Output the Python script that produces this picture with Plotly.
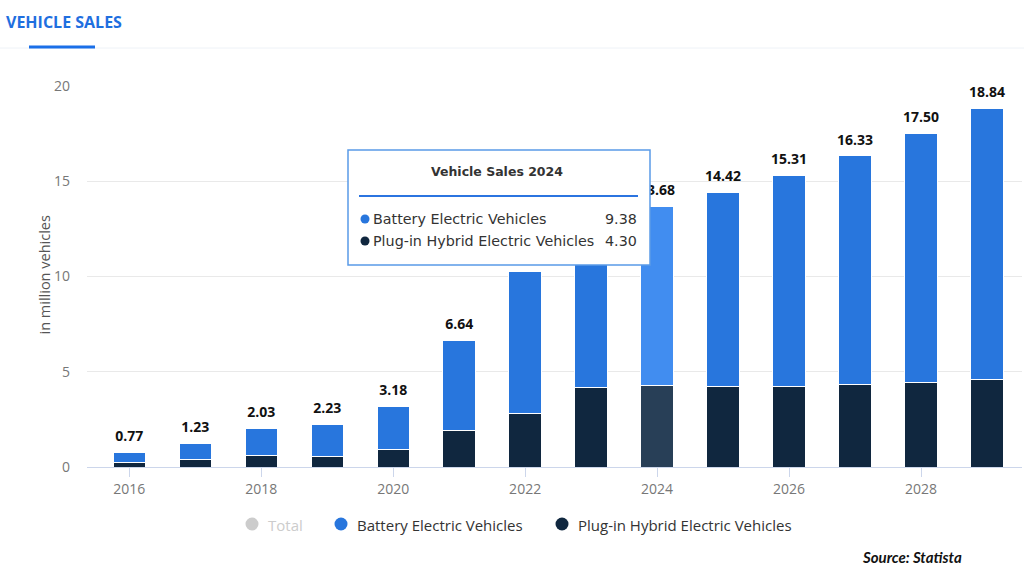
import plotly.graph_objects as go

years = [2016, 2017, 2018, 2019, 2020, 2021, 2022, 2023, 2024, 2025, 2026, 2027, 2028, 2029]
phev = [0.23, 0.37, 0.61, 0.54, 0.94, 1.90, 2.80, 4.15, 4.30, 4.25, 4.25, 4.32, 4.43, 4.60]
bev = [0.54, 0.86, 1.42, 1.69, 2.24, 4.74, 7.44, 8.95, 9.38, 10.17, 11.06, 12.01, 13.07, 14.24]
totals = [round(b + p, 2) for b, p in zip(bev, phev)]
x_ticks = [2016, 2018, 2020, 2022, 2024, 2026, 2028]
y_ticks = [0, 5, 10, 15, 20]
hover_year = 2024

BEV_C, BEV_H = "#2876dd", "#418df0"
PHEV_C, PHEV_H = "#10273f", "#283f57"

W, H = 1024, 576
L, R, T, B = 87, 2, 86, 109
PW, PH = W - L - R, H - T - B


def px(x):
    return (x - L) / PW


def py(y):
    return (H - B - y) / PH


fig = go.Figure()
fig.add_trace(go.Bar(
    x=years, y=phev, name="Plug-in Hybrid Electric Vehicles",
    marker=dict(color=[PHEV_H if y == hover_year else PHEV_C for y in years],
                line=dict(color="white", width=1)),
    width=0.49, showlegend=False, hoverinfo="skip"))
fig.add_trace(go.Bar(
    x=years, y=bev, name="Battery Electric Vehicles",
    marker=dict(color=[BEV_H if y == hover_year else BEV_C for y in years],
                line=dict(color="white", width=1)),
    width=0.49, showlegend=False, hoverinfo="skip"))
# total labels (drawn in the trace layer so the tooltip box can cover them)
fig.add_trace(go.Scatter(
    x=years, y=totals, mode="markers+text", text=[f"<b>{t:.2f}</b>" for t in totals],
    textposition="top center", cliponaxis=False,
    marker=dict(size=11, opacity=0, color="white"),
    textfont=dict(family="Open Sans", size=14, color="#111111"),
    showlegend=False, hoverinfo="skip"))

shapes = []
annotations = []

# header
annotations.append(dict(xref="paper", yref="paper", x=px(4), y=py(22), xanchor="left", yanchor="middle",
                        text="<b>VEHICLE SALES</b>", showarrow=False,
                        font=dict(family="Open Sans", size=16, color="#1f6fdf")))
shapes.append(dict(type="line", xref="paper", yref="paper", x0=px(0), x1=px(1024), y0=py(48), y1=py(48),
                   line=dict(color="#eef2f7", width=1)))
shapes.append(dict(type="line", xref="paper", yref="paper", x0=px(29), x1=px(95), y0=py(47), y1=py(47),
                   line=dict(color="#1a6fe8", width=3)))

# y-axis title
annotations.append(dict(xref="paper", yref="paper", x=px(32), y=py(275), textangle=-90,
                        text="in million vehicles", showarrow=False,
                        font=dict(family="Open Sans", size=14.5, color="#555555")))

# legend
legend_items = [("Total", "#cccccc", "#cccccc", 252), ("Battery Electric Vehicles", BEV_C, "#333333", 341),
                ("Plug-in Hybrid Electric Vehicles", PHEV_C, "#333333", 562)]
for name, dot, tc, xdot in legend_items:
    shapes.append(dict(type="circle", xref="paper", yref="paper", xsizemode="pixel", ysizemode="pixel",
                       xanchor=px(xdot), yanchor=py(524), x0=-6.5, x1=6.5, y0=-6.5, y1=6.5,
                       fillcolor=dot, line=dict(width=0)))
    annotations.append(dict(xref="paper", yref="paper", x=px(xdot + 14), y=py(525), xanchor="left",
                            yanchor="middle", text=name, showarrow=False,
                            font=dict(family="Open Sans", size=15, color=tc)))

# source
annotations.append(dict(xref="paper", yref="paper", x=px(860), y=py(557), xanchor="left", yanchor="middle",
                        text="<b><i>Source: Statista</i></b>", showarrow=False,
                        font=dict(family="Lato", size=15, color="#111111")))

# tooltip
idx = years.index(hover_year)
shapes.append(dict(type="rect", xref="paper", yref="paper", x0=px(348), x1=px(650), y0=py(150), y1=py(265),
                   fillcolor="white", line=dict(color="#5a9be8", width=1.5), layer="above"))
shapes.append(dict(type="line", xref="paper", yref="paper", x0=px(359), x1=px(638), y0=py(196), y1=py(196),
                   line=dict(color="#2b74e0", width=2), layer="above"))
annotations.append(dict(xref="paper", yref="paper", x=px(497), y=py(171), xanchor="center", yanchor="middle",
                        text=f"<b>Vehicle Sales {hover_year}</b>", showarrow=False,
                        font=dict(family="DejaVu Sans", size=12.5, color="#333333")))
rows = [("Battery Electric Vehicles", BEV_C, bev[idx], 219), ("Plug-in Hybrid Electric Vehicles", PHEV_C, phev[idx], 241)]
for name, dot, val, yy in rows:
    shapes.append(dict(type="circle", xref="paper", yref="paper", xsizemode="pixel", ysizemode="pixel",
                       xanchor=px(365), yanchor=py(yy), x0=-4.5, x1=4.5, y0=-4.5, y1=4.5,
                       fillcolor=dot, line=dict(width=0), layer="above"))
    annotations.append(dict(xref="paper", yref="paper", x=px(371), y=py(yy), xanchor="left", yanchor="middle",
                            text=name, showarrow=False,
                            font=dict(family="DejaVu Sans", size=14.3, color="#333333")))
    annotations.append(dict(xref="paper", yref="paper", x=px(639), y=py(yy), xanchor="right", yanchor="middle",
                            text=f"{val:.2f}", showarrow=False,
                            font=dict(family="DejaVu Sans", size=14.3, color="#333333")))

fig.update_layout(
    width=W, height=H, margin=dict(l=L, r=R, t=T, b=B),
    paper_bgcolor="white", plot_bgcolor="white", barmode="stack",
    shapes=shapes, annotations=annotations, showlegend=False,
    font=dict(family="Open Sans", color="#666666"),
    xaxis=dict(range=[2015.36, 2029.53], tickvals=x_ticks, ticktext=[str(v) for v in x_ticks],
               showgrid=False, showline=True, linecolor="#ccd6eb", linewidth=1,
               ticks="outside", ticklen=9, tickcolor="#ccd6eb", tickfont=dict(size=14, color="#777777"),
               zeroline=False, fixedrange=True),
    yaxis=dict(range=[0, 20], tickvals=y_ticks, showgrid=True, gridcolor="#e9e9e9", gridwidth=1,
               zeroline=False, ticks="", ticklabelstandoff=16, tickfont=dict(size=14, color="#777777"),
               fixedrange=True),
)

fig.write_html("out.html", config={"displayModeBar": False},
               post_script="document.body.style.margin='0px';document.body.style.padding='0px';")
